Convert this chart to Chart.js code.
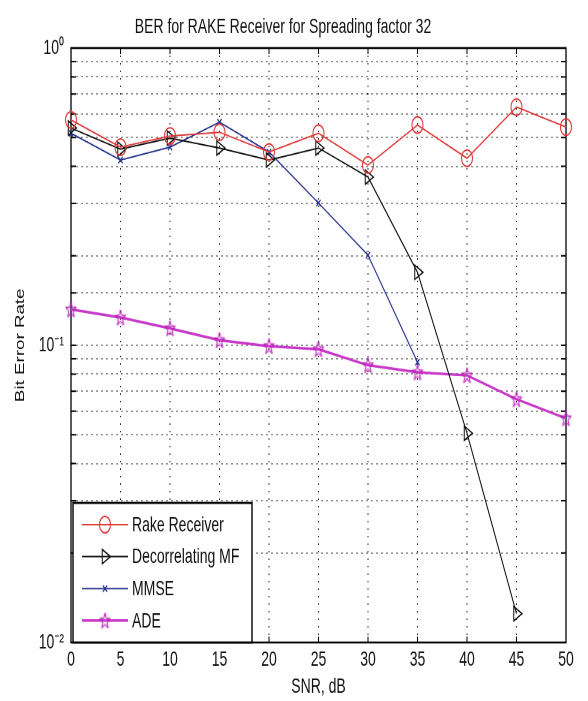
<!DOCTYPE html>
<html>
<head>
<meta charset="utf-8">
<title>BER for RAKE Receiver</title>
<script src="https://cdn.jsdelivr.net/npm/chart.js@4/dist/chart.umd.min.js"></script>
<style>
  html, body { margin: 0; padding: 0; background: #fff; }
  #page { width: 588px; height: 701px; overflow: hidden; }
  /* the original figure is a stretched matlab plot, so stretch the canvas the same way */
  #wrap { width: 588px; height: 467px; transform: scale(1, 1.5011); transform-origin: 0 0; }
</style>
</head>
<body>
<div id="page"><div id="wrap"><canvas id="ber" width="588" height="467"></canvas></div></div>
<script>
var snr = [0, 5, 10, 15, 20, 25, 30, 35, 40, 45, 50];
var rake = [0.573, 0.464, 0.506, 0.521, 0.447, 0.517, 0.404, 0.551, 0.426, 0.633, 0.542];
var decorr = [0.538, 0.457, 0.498, 0.461, 0.420, 0.461, 0.368, 0.176, 0.0506, 0.0125];
var mmse = [0.517, 0.420, 0.464, 0.563, 0.447, 0.301, 0.201, 0.0877];
var ade = [0.132, 0.124, 0.114, 0.104, 0.0993, 0.097, 0.0857, 0.0811, 0.0792, 0.0658, 0.0568];
var yTickLabels = { '0': '10\u2070', '-1': '10\u207B\u00B9', '-2': '10\u207B\u00B2' };

function pts(ys) {
  return ys.map(function(y, i) { return { x: snr[i], y: y }; });
}

// matlab style pentagram marker
function pentagram(color) {
  var c = document.createElement('canvas');
  c.width = 12; c.height = 12;
  var g = c.getContext('2d');
  g.strokeStyle = color;
  g.lineWidth = 1;
  g.beginPath();
  for (var i = 0; i < 10; i++) {
    var r = i % 2 ? 2.2 : 5.5;
    var a = -Math.PI / 2 + i * Math.PI / 5;
    var px = 6 + r * Math.cos(a), py = 6.4 + r * Math.sin(a);
    if (i) g.lineTo(px, py); else g.moveTo(px, py);
  }
  g.closePath();
  g.stroke();
  return c;
}

Chart.defaults.font.family = '"Liberation Sans", Arial, Helvetica, sans-serif';
Chart.defaults.color = '#111';

function isDecade(v) {
  var e = Math.log10(v);
  return Math.abs(e - Math.round(e)) < 1e-6;
}

var boxAndTicks = {
  id: 'boxAndTicks',
  beforeDatasetsDraw: function(chart) {
    var ctx = chart.ctx, a = chart.chartArea;
    var xs = chart.scales.x, ys = chart.scales.y;
    ctx.save();
    ctx.strokeStyle = '#000';
    ctx.lineWidth = 1;
    ctx.beginPath();
    ys.ticks.forEach(function(t) {
      var py = ys.getPixelForValue(t.value);
      ctx.moveTo(a.left, py); ctx.lineTo(a.left + 5, py);
      ctx.moveTo(a.right, py); ctx.lineTo(a.right - 5, py);
    });
    xs.ticks.forEach(function(t) {
      var px = xs.getPixelForValue(t.value);
      ctx.moveTo(px, a.bottom); ctx.lineTo(px, a.bottom - 4);
      ctx.moveTo(px, a.top); ctx.lineTo(px, a.top + 4);
    });
    ctx.stroke();
    ctx.lineWidth = 1.3;
    ctx.strokeRect(a.left, a.top, a.right - a.left, a.bottom - a.top);
    ctx.restore();
  }
};

// legend box in the lower left corner, like matlab's 'SouthWest'
var boxLegend = {
  id: 'boxLegend',
  afterDatasetsDraw: function(chart) {
    var ctx = chart.ctx, a = chart.chartArea;
    var left = a.left + 2, right = 252, top = 335, bottom = a.bottom;
    ctx.save();
    ctx.fillStyle = '#fff';
    ctx.fillRect(left, top, right - left, bottom - top);
    ctx.strokeStyle = '#000';
    ctx.lineWidth = 1.4;
    ctx.strokeRect(left, top, right - left, bottom - top);
    ctx.font = '14px "Liberation Sans", Arial, sans-serif';
    ctx.textBaseline = 'middle';
    chart.data.datasets.forEach(function(ds, i) {
      var y = 349.5 + i * 21.3;
      ctx.strokeStyle = ds.borderColor;
      ctx.lineWidth = ds.borderWidth;
      ctx.beginPath(); ctx.moveTo(82, y); ctx.lineTo(128, y); ctx.stroke();
      ctx.fillStyle = 'rgba(0,0,0,0)';
      ctx.lineWidth = 1;
      Chart.helpers.drawPoint(ctx, {
        pointStyle: ds.pointStyle, rotation: ds.pointRotation || 0,
        radius: ds.pointRadius, borderWidth: 1
      }, 105, y);
      ctx.fillStyle = '#111';
      ctx.fillText(ds.label, 132, y + 0.5);
    });
    ctx.restore();
  }
};

new Chart(document.getElementById('ber'), {
  type: 'line',
  data: {
    datasets: [
      { label: 'Rake Receiver', data: pts(rake), borderColor: '#e03a3a', borderWidth: 1,
        pointStyle: 'circle', pointRadius: 5.5, pointBorderColor: '#e03a3a',
        pointBackgroundColor: 'rgba(0,0,0,0)', clip: false },
      { label: 'Decorrelating MF', data: pts(decorr), borderColor: '#111', borderWidth: 1,
        pointStyle: 'triangle', pointRotation: 90, pointRadius: 5.5, pointBorderColor: '#111',
        pointBackgroundColor: 'rgba(0,0,0,0)', clip: false },
      { label: 'MMSE', data: pts(mmse), borderColor: '#2a3590', borderWidth: 1,
        pointStyle: 'crossRot', pointRadius: 3, pointBorderColor: '#2a3590',
        pointBackgroundColor: 'rgba(0,0,0,0)', clip: false },
      { label: 'ADE', data: pts(ade), borderColor: '#c838c8', borderWidth: 1.7,
        pointStyle: pentagram('#b818b8'), pointRadius: 6, pointBorderColor: '#b818b8',
        pointBackgroundColor: 'rgba(0,0,0,0)', clip: false }
    ]
  },
  options: {
    responsive: false,
    animation: false,
    devicePixelRatio: 2,
    layout: { padding: { left: 0, right: 22, top: 0, bottom: 0 } },
    elements: { line: { tension: 0 } },
    plugins: {
      legend: { display: false },
      tooltip: { enabled: false },
      title: {
        display: true,
        text: 'BER for RAKE Receiver for Spreading factor 32',
        color: '#111',
        font: { size: 14, weight: 'normal' },
        padding: { top: 9.6, bottom: 5.6 }
      }
    },
    scales: {
      x: {
        type: 'linear', min: 0, max: 50,
        ticks: { stepSize: 5, padding: 3, font: { size: 14 }, color: '#111' },
        grid: { color: 'rgba(0,0,0,0.85)', lineWidth: 1, drawTicks: false },
        border: { display: true, color: '#000', width: 1, dash: [1, 4] },
        title: { display: true, text: 'SNR, dB', color: '#111', font: { size: 14 }, padding: { top: 0, bottom: 1 } },
        afterFit: function(s) { s.height = 39; }
      },
      y: {
        type: 'logarithmic', min: 0.01, max: 1,
        ticks: {
          autoSkip: false, padding: 7, font: { size: 14 }, color: '#111',
          callback: function(v) {
            return isDecade(v) ? yTickLabels[String(Math.round(Math.log10(v)))] : '';
          }
        },
        grid: { color: 'rgba(0,0,0,0.85)', lineWidth: 1, drawTicks: false },
        border: { display: true, color: '#000', width: 1, dash: [1, 4] },
        title: { display: true, text: 'Bit Error Rate', color: '#111', font: { size: 12.5 }, padding: { top: 13, bottom: 0 } },
        afterFit: function(s) { s.width = 71; }
      }
    }
  },
  plugins: [boxAndTicks, boxLegend]
});
</script>
</body>
</html>
